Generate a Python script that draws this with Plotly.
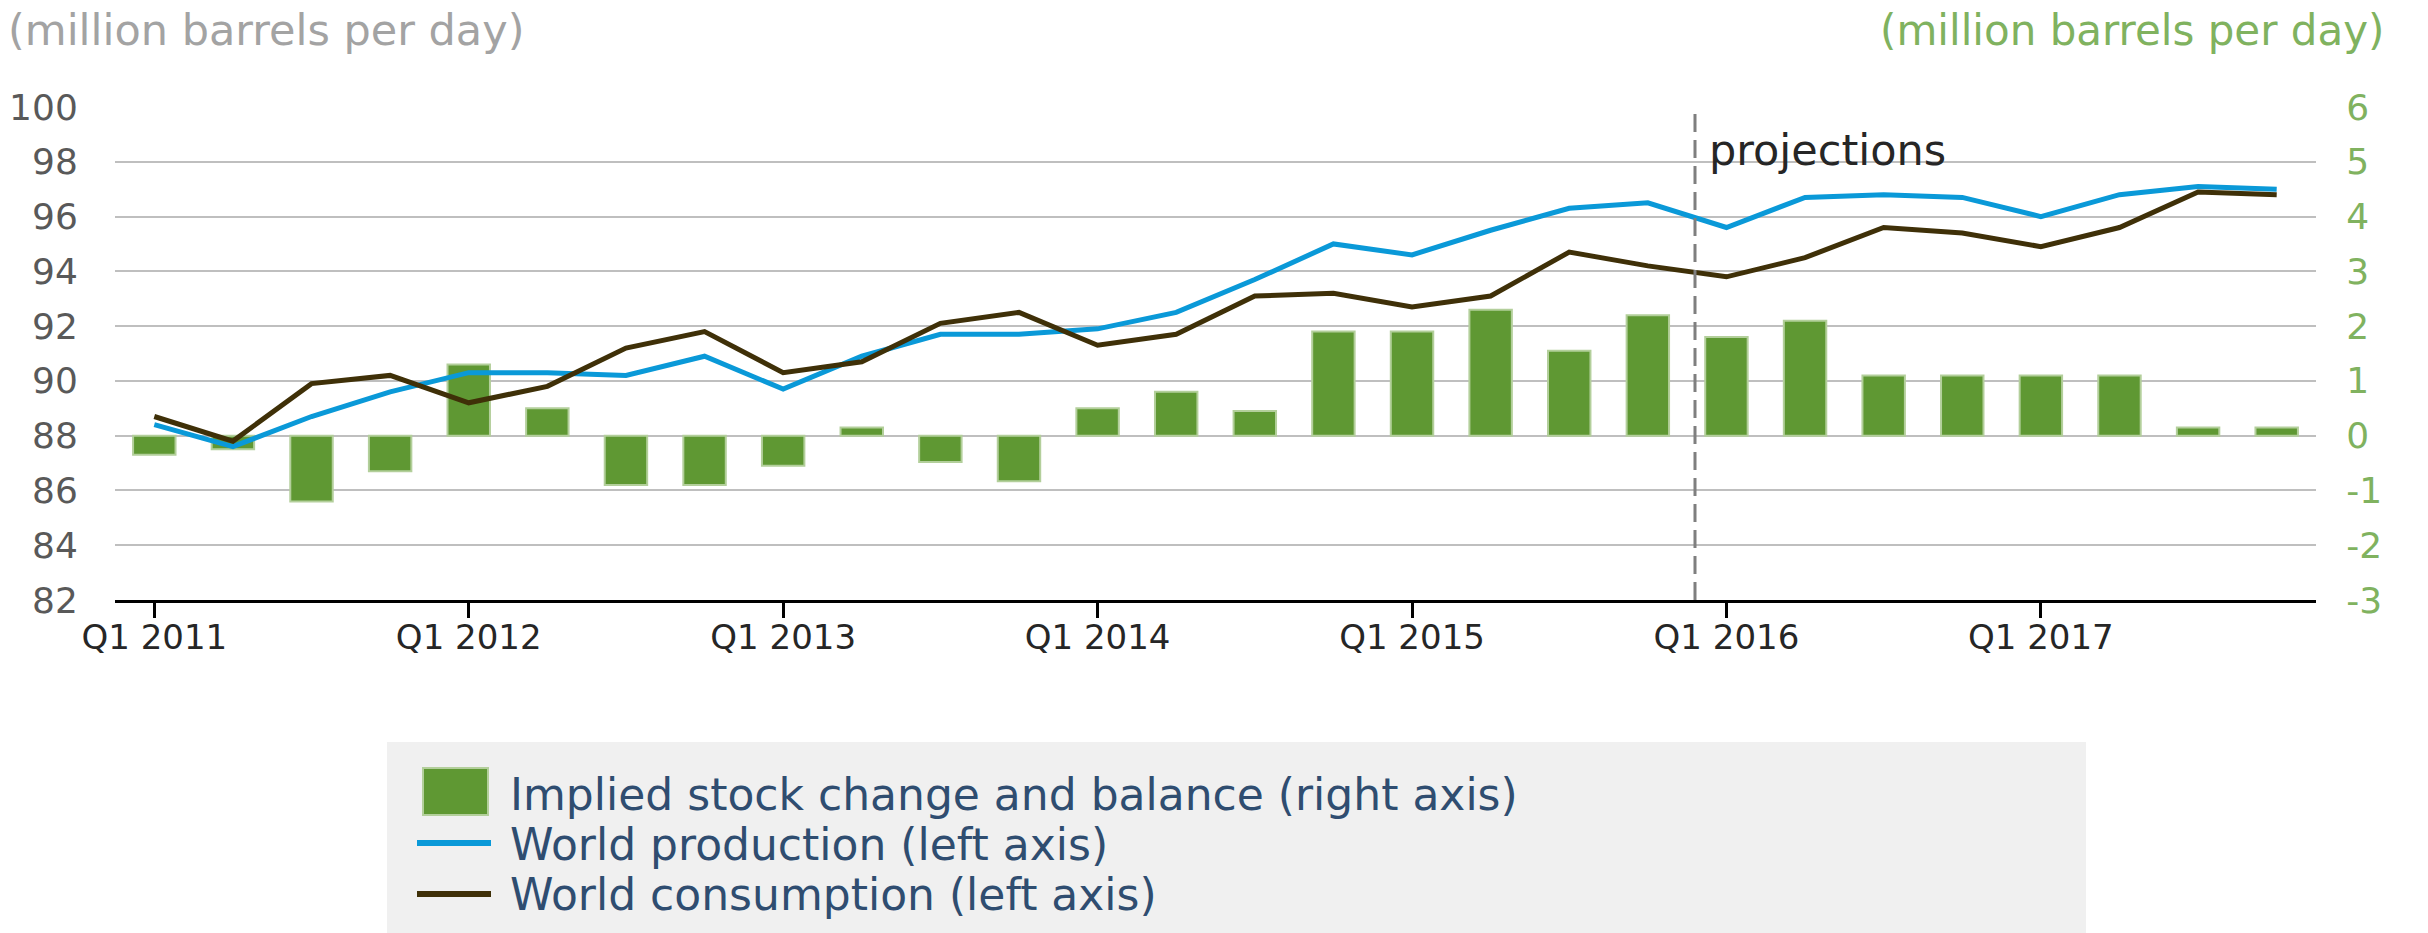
import plotly.graph_objects as go

# ---------------- data ----------------
quarters = ["Q1 2011", "Q2 2011", "Q3 2011", "Q4 2011",
            "Q1 2012", "Q2 2012", "Q3 2012", "Q4 2012",
            "Q1 2013", "Q2 2013", "Q3 2013", "Q4 2013",
            "Q1 2014", "Q2 2014", "Q3 2014", "Q4 2014",
            "Q1 2015", "Q2 2015", "Q3 2015", "Q4 2015",
            "Q1 2016", "Q2 2016", "Q3 2016", "Q4 2016",
            "Q1 2017", "Q2 2017", "Q3 2017", "Q4 2017"]
tick_labels = ["Q1 2011", "Q1 2012", "Q1 2013", "Q1 2014", "Q1 2015", "Q1 2016", "Q1 2017"]

stock_change = [-0.35, -0.25, -1.2, -0.65, 1.3, 0.5, -0.9, -0.9,
                -0.55, 0.15, -0.48, -0.83, 0.5, 0.8, 0.45, 1.9,
                1.9, 2.3, 1.55, 2.2, 1.8, 2.1, 1.1, 1.1,
                1.1, 1.1, 0.15, 0.15]
production = [88.4, 87.6, 88.7, 89.6, 90.3, 90.3, 90.2, 90.9,
              89.7, 90.9, 91.7, 91.7, 91.9, 92.5, 93.7, 95.0,
              94.6, 95.5, 96.3, 96.5, 95.6, 96.7, 96.8, 96.7,
              96.0, 96.8, 97.1, 97.0]
consumption = [88.7, 87.8, 89.9, 90.2, 89.2, 89.8, 91.2, 91.8,
               90.3, 90.7, 92.1, 92.5, 91.3, 91.7, 93.1, 93.2,
               92.7, 93.1, 94.7, 94.2, 93.8, 94.5, 95.6, 95.4,
               94.9, 95.6, 96.9, 96.8]

left_ticks = [82, 84, 86, 88, 90, 92, 94, 96, 98, 100]
right_ticks = [-3, -2, -1, 0, 1, 2, 3, 4, 5, 6]
right_tick_text = ["-3", "-2", "-1", "0", "1", "2", "3", "4", "5", "6"]
projection_start = "Q1 2016"

names = ["Implied stock change and balance (right axis)",
         "World production (left axis)",
         "World consumption (left axis)"]

# ---------------- styles ----------------
FONT = "DejaVu Sans"
BAR_C = "#5f9833"
BAR_EDGE = "#b3cf9b"
PROD_C = "#0a99d8"
CONS_C = "#3f3008"
GREEN_TXT = "#80b25f"

W, H = 2428, 933
# plot area in page pixels: x 115..2316, y 107..600
L, T = 115, 107
R = W - 2316
B = H - 600
PW, PH = W - L - R, H - T - B


def px_x(px):
    return (px - L) / PW


def px_y(py):
    return (H - B - py) / PH


fig = go.Figure()

fig.add_trace(go.Bar(
    x=quarters, y=stock_change, name=names[0], yaxis="y",
    marker=dict(color=BAR_C, line=dict(color=BAR_EDGE, width=2)),
))
fig.add_trace(go.Scatter(
    x=quarters, y=production, name=names[1], yaxis="y2", mode="lines",
    line=dict(color=PROD_C, width=5),
))
fig.add_trace(go.Scatter(
    x=quarters, y=consumption, name=names[2], yaxis="y2", mode="lines",
    line=dict(color=CONS_C, width=5),
))

proj_x = quarters.index(projection_start) - 0.4

shapes = [
    dict(type="line", xref="x", yref="paper", x0=proj_x, x1=proj_x, y0=0, y1=1,
         line=dict(color="#7f7f7f", width=3, dash="18px,8px")),
    # legend box
    dict(type="rect", xref="paper", yref="paper", layer="below",
         x0=px_x(387), x1=px_x(2086), y0=px_y(742), y1=px_y(940),
         fillcolor="#f0f0f0", line=dict(width=0)),
    # legend symbols
    dict(type="rect", xref="paper", yref="paper",
         x0=px_x(423), x1=px_x(488), y0=px_y(768), y1=px_y(815),
         fillcolor=BAR_C, line=dict(color=BAR_EDGE, width=2)),
    dict(type="line", xref="paper", yref="paper",
         x0=px_x(417), x1=px_x(491), y0=px_y(843), y1=px_y(843),
         line=dict(color=PROD_C, width=6)),
    dict(type="line", xref="paper", yref="paper",
         x0=px_x(417), x1=px_x(491), y0=px_y(894), y1=px_y(894),
         line=dict(color=CONS_C, width=6)),
]

annotations = [
    dict(text="(million barrels per day)", xref="paper", yref="paper",
         x=px_x(6), y=px_y(30), xanchor="left", yanchor="middle", showarrow=False,
         font=dict(family=FONT, size=43, color="#a3a3a3")),
    dict(text="(million barrels per day)", xref="paper", yref="paper",
         x=px_x(2386), y=px_y(30), xanchor="right", yanchor="middle", showarrow=False,
         font=dict(family=FONT, size=42, color=GREEN_TXT)),
    dict(text="projections", xref="x", yref="paper",
         x=proj_x, y=px_y(150), xanchor="left", yanchor="middle", showarrow=False,
         xshift=12, font=dict(family=FONT, size=43, color="#262626")),
]
for name, py in zip(names, [794, 844, 894]):
    annotations.append(dict(
        text=name, xref="paper", yref="paper", x=px_x(508), y=px_y(py),
        xanchor="left", yanchor="middle", showarrow=False,
        font=dict(family=FONT, size=44, color="#2f4d70")))

fig.update_layout(
    width=W, height=H,
    margin=dict(l=L, r=R, t=T, b=B, autoexpand=False),
    paper_bgcolor="white", plot_bgcolor="white",
    showlegend=False,
    bargap=0.46,
    font=dict(family=FONT),
    xaxis=dict(
        type="category", categoryorder="array", categoryarray=quarters,
        tickvals=tick_labels, ticktext=tick_labels, automargin=False,
        showgrid=False, showline=True, linecolor="black", linewidth=3,
        ticks="outside", ticklen=15, tickwidth=3, tickcolor="black",
        ticklabelstandoff=-10,
        tickfont=dict(family=FONT, size=34, color="#262626"),
        range=[-0.5, len(quarters) - 0.5],
    ),
    yaxis=dict(
        side="right", range=[-3, 6], tickvals=right_ticks, ticktext=right_tick_text,
        automargin=False,
        showgrid=True, gridcolor="#bfbfbf", gridwidth=2, zeroline=False,
        ticks="outside", ticklen=22, tickcolor="rgba(0,0,0,0)",
        tickfont=dict(family=FONT, size=36, color=GREEN_TXT),
    ),
    yaxis2=dict(
        overlaying="y", side="left", range=[82, 100], tickvals=left_ticks,
        automargin=False,
        showgrid=False, zeroline=False,
        ticks="outside", ticklen=29, tickcolor="rgba(0,0,0,0)",
        tickfont=dict(family=FONT, size=36, color="#595959"),
    ),
    shapes=shapes,
    annotations=annotations,
)

fig.write_html(
    "out.html",
    config={"displayModeBar": False},
    post_script="document.body.style.margin='0';document.body.style.overflow='hidden';",
)
